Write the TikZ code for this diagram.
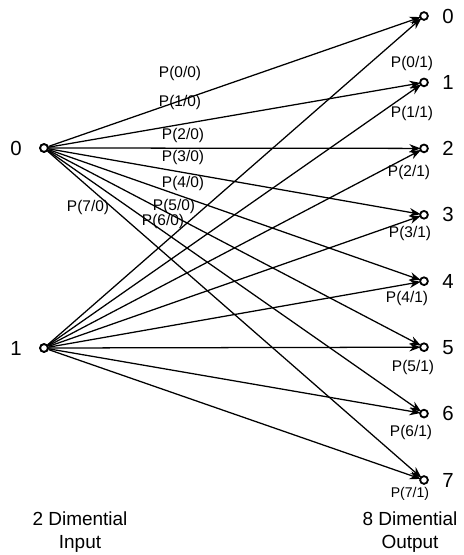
\documentclass[tikz,border=0pt]{standalone}
\usepackage{fontspec}
\setmainfont{Liberation Sans}
\usetikzlibrary{arrows.meta}
\tikzset{
  port/.style={circle,draw,line width=1.3pt,inner sep=0pt,minimum size=5.5pt,fill=white},
  chan/.style={-{Stealth[length=8pt,width=6pt]},line width=0.9pt,shorten >=-1pt},
  prob/.style={font=\fontsize{11}{12}\selectfont,inner sep=0pt},
  sym/.style={font=\fontsize{14.5}{16}\selectfont},
  caption/.style={font=\fontsize{13.5}{16}\selectfont,align=center}
}
\begin{document}
\begin{tikzpicture}
\useasboundingbox (0,0) rectangle (11.6,-13.875);
\node[port] (x0) at (1.1,-3.7) {};
\node[port] (x1) at (1.1,-8.7) {};
\node[sym] (lx0) at (0.4,-3.7) {0};
\node[sym] (lx1) at (0.4,-8.7) {1};
\node[port] (y0) at (10.6,-.4) {};
\node[port] (y1) at (10.6,-2.06) {};
\node[port] (y2) at (10.6,-3.71) {};
\node[port] (y3) at (10.6,-5.37) {};
\node[port] (y4) at (10.6,-7.03) {};
\node[port] (y5) at (10.6,-8.68) {};
\node[port] (y6) at (10.6,-10.34) {};
\node[port] (y7) at (10.6,-12.) {};
\node[sym] (ly0) at (11.2,-.4) {0};
\node[sym] (ly1) at (11.2,-2.06) {1};
\node[sym] (ly2) at (11.2,-3.71) {2};
\node[sym] (ly3) at (11.2,-5.37) {3};
\node[sym] (ly4) at (11.2,-7.03) {4};
\node[sym] (ly5) at (11.2,-8.68) {5};
\node[sym] (ly6) at (11.2,-10.34) {6};
\node[sym] (ly7) at (11.2,-12.) {7};
% channels from input 0
\draw[chan] (x0) -- (y0);
\draw[chan] (x0) -- (y1);
\draw[chan] (x0) -- (y2);
\draw[chan] (x0) -- (y3);
\draw[chan] (x0) -- (y4);
\draw[chan] (x0) -- (y5);
\draw[chan] (x0) -- (y6);
\draw[chan] (x0) -- (y7);
% channels from input 1
\draw[chan] (x1) -- (y0);
\draw[chan] (x1) -- (y1);
\draw[chan] (x1) -- (y2);
\draw[chan] (x1) -- (y3);
\draw[chan] (x1) -- (y4);
\draw[chan] (x1) -- (y5);
\draw[chan] (x1) -- (y6);
\draw[chan] (x1) -- (y7);
\node[port] at (x0) {};
\node[port] at (x1) {};
% transition labels
\node[prob] (p00) at (4.5,-1.825) {P(0/0)};
\node[prob] (p10) at (4.5,-2.55) {P(1/0)};
\node[prob] (p20) at (4.575,-3.375) {P(2/0)};
\node[prob] (p30) at (4.575,-3.925) {P(3/0)};
\node[prob] (p40) at (4.575,-4.575) {P(4/0)};
\node[prob] (p50) at (4.35,-5.15) {P(5/0)};
\node[prob] (p60) at (4.075,-5.525) {P(6/0)};
\node[prob] (p70) at (2.2,-5.175) {P(7/0)};
\node[prob] (p01) at (10.3,-1.575) {P(0/1)};
\node[prob] (p11) at (10.3,-2.825) {P(1/1)};
\node[prob] (p21) at (10.225,-4.3) {P(2/1)};
\node[prob] (p31) at (10.25,-5.825) {P(3/1)};
\node[prob] (p41) at (10.175,-7.45) {P(4/1)};
\node[prob] (p51) at (10.325,-9.175) {P(5/1)};
\node[prob] (p61) at (10.275,-10.8) {P(6/1)};
\node[prob,font=\fontsize{10}{11}\selectfont] (p71) at (10.25,-12.35) {P(7/1)};
% captions
\node[caption] (inp) at (2.0,-13.3) {2 Dimential\\Input};
\node[caption] (outp) at (10.25,-13.3) {8 Dimential\\Output};
\end{tikzpicture}
\end{document}
